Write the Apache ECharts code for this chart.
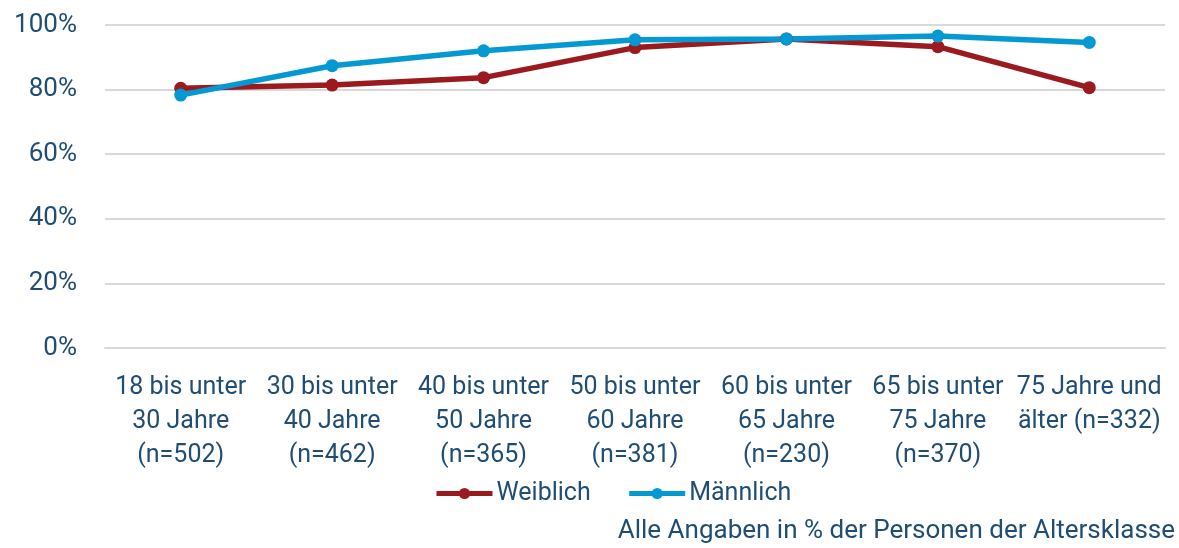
<!DOCTYPE html>
<html>
<head>
<meta charset="utf-8">
<script src="https://cdn.jsdelivr.net/npm/echarts@6/dist/echarts.min.js"></script>
<style>
  html, body { margin: 0; padding: 0; background: #fff; }
  #chart { width: 1179px; height: 548px; }
</style>
</head>
<body>
<div id="chart"></div>
<script>
// Altersklassen (x-Achse)
const categories = [
  '18 bis unter\n30 Jahre\n(n=502)',
  '30 bis unter\n40 Jahre\n(n=462)',
  '40 bis unter\n50 Jahre\n(n=365)',
  '50 bis unter\n60 Jahre\n(n=381)',
  '60 bis unter\n65 Jahre\n(n=230)',
  '65 bis unter\n75 Jahre\n(n=370)',
  '75 Jahre und\nälter (n=332)'
]
const weiblich = [80.4, 81.4, 83.7, 93.0, 95.7, 93.3, 80.6]
const maennlich = [78.3, 87.4, 92.0, 95.4, 95.7, 96.6, 94.6]

const textColor = '#1f4d73'
const fontFamily = 'Roboto'

const chart = echarts.init(document.getElementById('chart'))
chart.setOption({
  animation: false,
  textStyle: { fontFamily: fontFamily },
  grid: { left: 105, right: 14, top: 25, bottom: 200 },
  legend: {
    data: ['Weiblich', 'Männlich'],
    top: 481,
    left: 434,
    padding: 0,
    itemWidth: 56,
    itemHeight: 14,
    itemGap: 36,
    lineStyle: { width: 5 },
    textStyle: { color: textColor, fontSize: 25, fontFamily: fontFamily, padding: [0, 0, 0, -1] }
  },
  graphic: [{
    type: 'text',
    right: 4,
    top: 518,
    style: {
      text: 'Alle Angaben in % der Personen der Altersklasse',
      fill: textColor,
      font: '26px ' + fontFamily
    }
  }],
  xAxis: {
    type: 'category',
    data: categories,
    boundaryGap: true,
    axisLine: { lineStyle: { color: '#d9d9d9', width: 2 } },
    axisTick: { show: false },
    axisLabel: {
      color: textColor,
      fontSize: 25,
      lineHeight: 34,
      margin: 23,
      interval: 0
    }
  },
  yAxis: {
    type: 'value',
    min: 0,
    max: 100,
    interval: 20,
    axisLine: { show: false },
    axisTick: { show: false },
    splitLine: { lineStyle: { color: '#d9d9d9', width: 2 } },
    axisLabel: {
      color: textColor,
      fontSize: 26,
      margin: 28,
      formatter: '{value}%'
    }
  },
  series: [
    {
      name: 'Weiblich',
      type: 'line',
      data: weiblich,
      symbol: 'circle',
      symbolSize: 13,
      itemStyle: { color: '#9b1a1f' },
      lineStyle: { color: '#9b1a1f', width: 5.5 }
    },
    {
      name: 'Männlich',
      type: 'line',
      data: maennlich,
      symbol: 'circle',
      symbolSize: 13,
      itemStyle: { color: '#0599d3' },
      lineStyle: { color: '#0599d3', width: 5.5 }
    }
  ]
})
</script>
</body>
</html>
